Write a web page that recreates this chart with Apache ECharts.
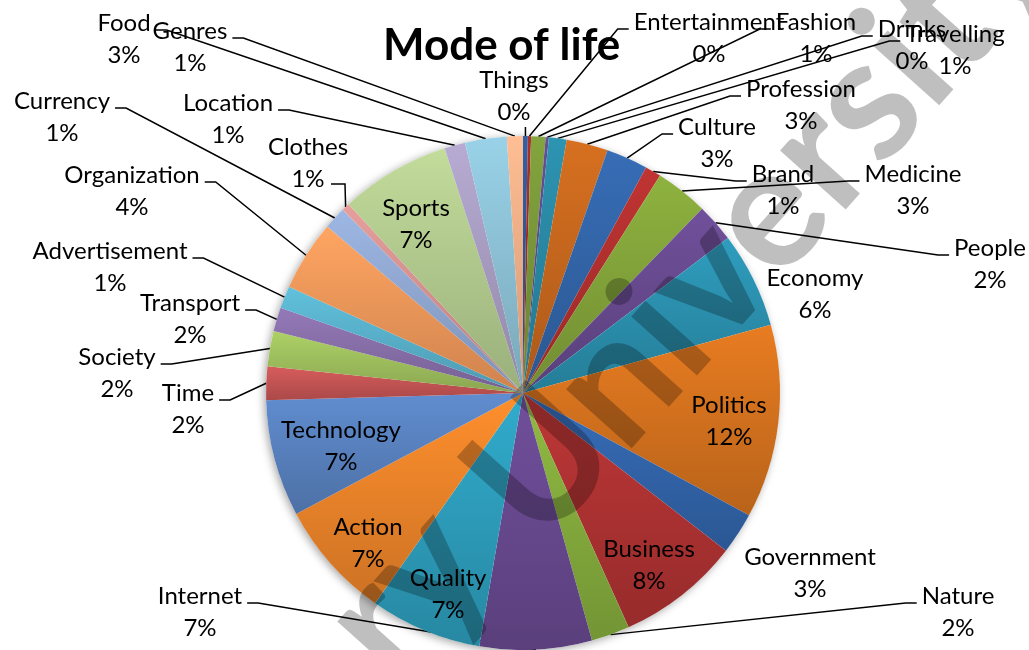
<!DOCTYPE html>
<html lang="en">
<head>
    <meta charset="UTF-8">
    <title>Mode of life</title>
    <style>
        html, body { margin: 0; padding: 0; background: #fff; }
        #div_pie { width: 1029px; height: 650px; }
    </style>
</head>
<body>
<div id="div_pie"></div>
<script src="https://cdn.jsdelivr.net/npm/echarts@6/dist/echarts.min.js"></script>
<script type="text/javascript">
    // slices, clockwise from 12 o'clock
    var categories = ['Things', 'Entertainment', 'Fashion', 'Drinks', 'Travelling', 'Profession', 'Culture',
        'Brand', 'Medicine', 'People', 'Economy', 'Politics', 'Government', 'Business', 'Nature', 'Internet',
        'Quality', 'Action', 'Technology', 'Time', 'Society', 'Transport', 'Advertisement', 'Organization',
        'Currency', 'Clothes', 'Sports', 'Location', 'Food', 'Genres'];
    var values = [3, 2, 9, 2, 11, 26, 26,
        10, 33, 24, 60, 121, 26, 77, 24, 70,
        70, 74, 73, 21, 22, 15, 14, 44,
        14, 5, 69, 13, 26, 10];

    var sliceColors = ['#2e5a9a', '#a02c2c', '#7a993a', '#5f4b8b', '#2a8aa6', '#c9691e', '#3366aa',
        '#b3312f', '#85a63b', '#694b91', '#2c93b2', '#d9741f', '#3366ad', '#b23333', '#87af3e', '#6a4a92',
        '#2ea0bf', '#f0862a', '#5a84c2', '#c95656', '#a2c35f', '#8a71ac', '#5bb4cf', '#f39a5c',
        '#93abd5', '#d89593', '#b5ce91', '#aba0c5', '#8fc4d9', '#f7b289'];

    // where each label sits (centre of its two lines)
    var labelSpots = {
        Things: [514, 96], Entertainment: [709, 38], Fashion: [816, 38], Drinks: [912, 45],
        Travelling: [955, 50], Profession: [801, 105], Culture: [717, 143], Brand: [783, 190],
        Medicine: [913, 190], People: [990, 264], Economy: [815, 294], Politics: [729, 421],
        Government: [810, 573], Business: [649, 565], Nature: [958, 612], Internet: [200, 612],
        Quality: [448, 594], Action: [368, 543], Technology: [341, 446], Time: [188, 409],
        Society: [117, 373], Transport: [190, 319], Advertisement: [110, 267], Organization: [132, 191],
        Currency: [62, 117], Clothes: [308, 163], Sports: [416, 224], Location: [228, 119],
        Food: [124, 39], Genres: [190, 47]
    };
    var noLine = ['Sports', 'Economy', 'Politics', 'Government', 'Business', 'Quality', 'Action', 'Technology'];

    var specialLines = {
        Things: function (a, x, y) { return [a, [a[0], y + 31], [a[0], y + 31]]; },
        Clothes: function (a, x, y) { return [a, [x + 37, y + 21], [x + 23, y + 21]]; }
    };

    var total = values.reduce(function (s, v) { return s + v; }, 0);

    function shade(hex, f) {
        var n = parseInt(hex.slice(1), 16);
        var r = (n >> 16) & 255, g = (n >> 8) & 255, b = n & 255;
        function c(v) { return Math.max(0, Math.min(255, Math.round(v * f))); }
        return 'rgb(' + c(r) + ',' + c(g) + ',' + c(b) + ')';
    }

    window.onload = function () {
        var seriesData = [];
        for (var i = 0; i < categories.length; i++) {
            var item = {
                name: categories[i],
                value: values[i],
                itemStyle: {
                    color: {
                        type: 'linear', x: 0, y: 0, x2: 0, y2: 1,
                        colorStops: [
                            {offset: 0, color: shade(sliceColors[i], 1.07)},
                            {offset: 1, color: shade(sliceColors[i], 0.85)}
                        ]
                    }
                }
            };
            if (noLine.indexOf(categories[i]) >= 0) {
                item.labelLine = {show: false};
            }
            seriesData.push(item);
        }

        var option = {
            backgroundColor: '#fff',
            animation: false,
            title: {
                text: 'Mode of life',
                left: 378,
                top: 19,
                textStyle: {fontFamily: 'Lato', fontWeight: 'bold', fontSize: 44, color: '#000'}
            },
            series: [{
                // soft drop shadow behind the pie
                type: 'pie',
                silent: true,
                center: [523, 393],
                radius: 257,
                label: {show: false},
                labelLine: {show: false},
                itemStyle: {color: '#fff', shadowBlur: 8, shadowOffsetX: -2, shadowOffsetY: 2, shadowColor: 'rgba(0,0,0,0.35)'},
                data: [{value: 1, name: ''}],
                z: 1
            }, {
                type: 'pie',
                center: [523, 393],
                radius: 257,
                startAngle: 90,
                clockwise: true,
                avoidLabelOverlap: false,
                minShowLabelAngle: 0,
                emphasis: {disabled: true},
                label: {
                    show: true,
                    position: 'outside',
                    color: '#000',
                    fontFamily: 'Lato',
                    fontSize: 24,
                    lineHeight: 32,
                    align: 'center',
                    formatter: function (p) {
                        return p.name + '\n' + Math.round(p.value / total * 100) + '%';
                    }
                },
                labelLine: {show: true, length: 10, length2: 10, lineStyle: {color: '#000', width: 1.5}},
                labelLayout: function (params) {
                    var name = categories[params.dataIndex];
                    var spot = labelSpots[name];
                    var x = spot[0], y = spot[1];
                    var out = {x: x, y: y, align: 'center', verticalAlign: 'middle'};
                    var pts = params.labelLinePoints;
                    if (pts && noLine.indexOf(name) < 0) {
                        var a = pts[0];
                        if (specialLines[name]) {
                            out.labelLinePoints = specialLines[name](a, x, y);
                        } else {
                            var half = params.labelRect.width / 2;
                            var dir = x < a[0] ? 1 : -1;
                            var ex = x + dir * (half + 5), ey = y - 9;
                            out.labelLinePoints = [a, [ex + dir * 11, ey], [ex, ey]];
                        }
                    }
                    return out;
                },
                itemStyle: {borderWidth: 0},
                data: seriesData,
                z: 2
            }],
            graphic: [{
                type: 'text',
                x: 500, y: 512,
                rotation: 0.84,
                silent: true,
                z: 100,
                style: {text: 'University', font: 'bold 172px Lato', fill: 'rgba(0,0,0,0.25)', textAlign: 'left', textVerticalAlign: 'middle'}
            }, {
                type: 'text',
                x: 458, y: 536,
                rotation: 0.84,
                silent: true,
                z: 100,
                style: {text: 'Repository', font: 'bold 172px Lato', fill: 'rgba(0,0,0,0.25)', textAlign: 'right', textVerticalAlign: 'middle'}
            }]
        };

        var echart = echarts.init(document.getElementById('div_pie'));
        echart.setOption(option);
    };
</script>
</body>
</html>
